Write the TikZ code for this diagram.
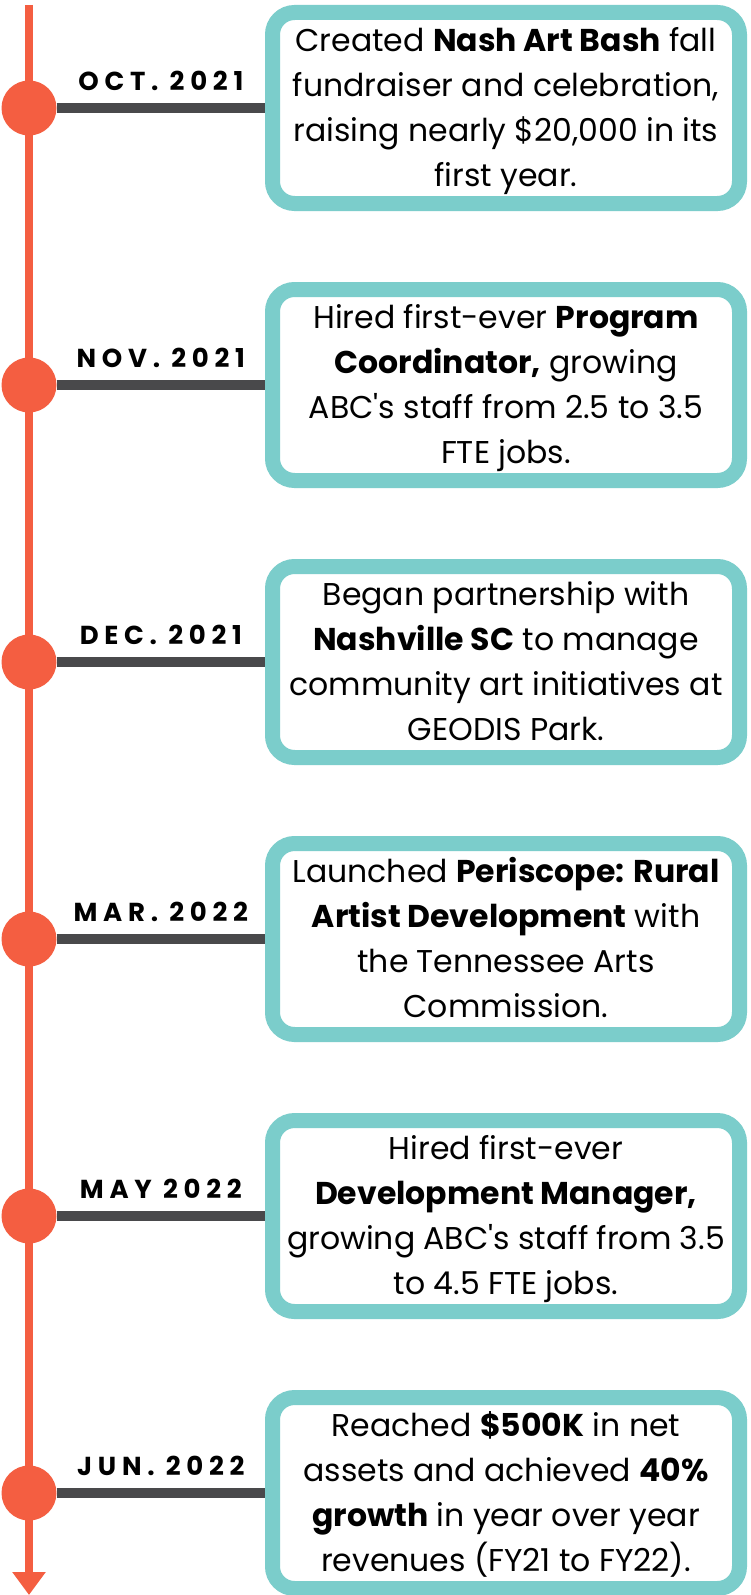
\documentclass[tikz,border=0pt]{standalone}
\usepackage{fontspec}
\setmainfont{Poppins}[Ligatures=TeXOff]
\newfontfamily\datefont[LetterSpace=22]{Poppins}
\usetikzlibrary{arrows.meta}
\definecolor{tlorange}{HTML}{F45E41}
\definecolor{tlbar}{HTML}{49494B}
\definecolor{tlteal}{HTML}{7BCDCB}
\tikzset{
  dot/.style={circle,fill=tlorange,minimum size=55pt,inner sep=0pt},
  evbox/.style={draw=tlteal,fill=white,line width=15pt,rounded corners=22pt,
    minimum width=467pt,minimum height=191pt,inner sep=0pt,align=center,
    font=\fontsize{31.5}{45}\selectfont,
    text height=167pt,text depth=10pt},
  barline/.style={draw=tlbar,line width=10pt},
  datelbl/.style={anchor=base,yshift=18pt,inner sep=0pt,text=black,
    font=\datefont\bfseries\fontsize{26}{26}\selectfont},
  spine/.style={draw=tlorange,line width=8pt,-{Triangle[width=32pt,length=23pt]}}
}
\begin{document}
\begin{tikzpicture}[x=1pt,y=-1pt]
\useasboundingbox (0,0) rectangle (750,1595);
\fill[white] (0,0) rectangle (750,1595);
\coordinate (top) at (29,5);
\coordinate (bot) at (29,1595);
\draw[spine] (top) -- (bot);
% events
\foreach \i/\dy in {1/108,2/385,3/662,4/939,5/1216,6/1493}{
  \node[dot] (c\i) at (29,\dy) {};
}
\node[evbox] (b1) at (506,108) {Created \textbf{Nash Art Bash} fall\\fundraiser and celebration,\\raising nearly \$20,000 in its\\first year.};
\node[evbox] (b2) at (506,385) {Hired first-ever \textbf{Program}\\\textbf{Coordinator,} growing\\ABC's staff from 2.5 to 3.5\\FTE jobs.};
\node[evbox] (b3) at (506,662) {Began partnership with\\\textbf{Nashville SC} to manage\\community art initiatives at\\GEODIS Park.};
\node[evbox] (b4) at (506,939) {Launched \textbf{Periscope: Rural}\\\textbf{Artist Development} with\\the Tennessee Arts\\Commission.};
\node[evbox] (b5) at (506,1216) {Hired first-ever\\\textbf{Development Manager,}\\growing ABC's staff from 3.5\\to 4.5 FTE jobs.};
\node[evbox] (b6) at (506,1493) {Reached \textbf{\$500K} in net\\assets and achieved \textbf{40\%}\\\textbf{growth} in year over year\\revenues (FY21 to FY22).};
\draw[barline] (c1.east) -- node[datelbl]{OCT. 2021} (b1.west);
\draw[barline] (c2.east) -- node[datelbl]{NOV. 2021} (b2.west);
\draw[barline] (c3.east) -- node[datelbl]{DEC. 2021} (b3.west);
\draw[barline] (c4.east) -- node[datelbl]{MAR. 2022} (b4.west);
\draw[barline] (c5.east) -- node[datelbl]{MAY 2022} (b5.west);
\draw[barline] (c6.east) -- node[datelbl]{JUN. 2022} (b6.west);
\end{tikzpicture}
\end{document}
